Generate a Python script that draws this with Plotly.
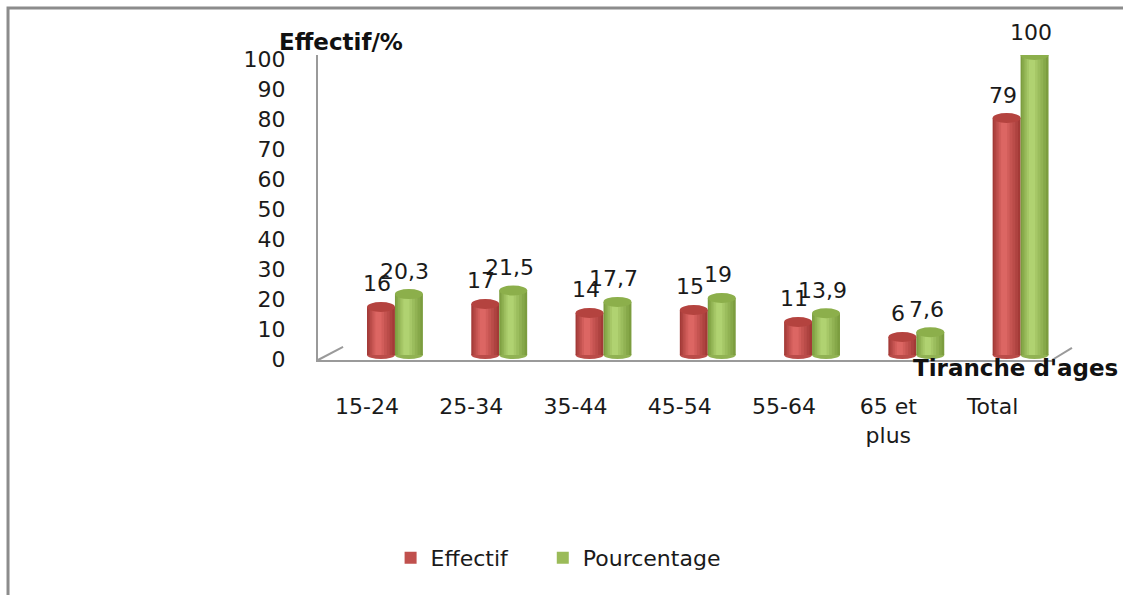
import numpy as np
import plotly.graph_objects as go

# Age groups and values
categories = ["15-24", "25-34", "35-44", "45-54", "55-64", "65 et<br>plus", "Total"]
effectif = [16, 17, 14, 15, 11, 6, 79]
pourcentage = [20.3, 21.5, 17.7, 19, 13.9, 7.6, 100]
y_ticks = list(range(0, 101, 10))

FONT = "DejaVu Sans"
TXT = "#1a1a1a"
W = 0.268  # width of one cylinder in category units

idx = np.arange(len(categories))
x_eff = idx - W / 2
x_pct = idx + W / 2


def blend(c1, c2, t):
    a = [int(c1[i:i + 2], 16) for i in (1, 3, 5)]
    b = [int(c2[i:i + 2], 16) for i in (1, 3, 5)]
    return "#" + "".join(f"{round(p + (q - p) * t):02x}" for p, q in zip(a, b))


series = [
    # name, x, values, edge colour, centre colour, legend colour, cap colour, legend id
    ("Effectif", x_eff, effectif, "#A33A37", "#DC6663", "#C0504D", "#B4433F", "legend"),
    ("Pourcentage", x_pct, pourcentage, "#7C9D3F", "#B0D271", "#9BBB59", "#8CAF4B", "legend2"),
]

# nested strips (width fraction, left offset) shading each cylinder
strips = [(1.0, 0.0), (0.86, 0.02), (0.70, 0.04), (0.54, 0.06), (0.38, 0.08), (0.22, 0.09)]

fig = go.Figure()
shapes = []

for name, xs, vals, edge, centre, legend_col, cap, leg in series:
    # legend-only entry in the flat series colour
    fig.add_trace(go.Bar(x=[None], y=[None], name=name, legend=leg,
                         marker=dict(color=legend_col, line=dict(width=0))))
    for k, (frac, off) in enumerate(strips):
        col = blend(edge, centre, k / (len(strips) - 1))
        fig.add_trace(go.Bar(x=xs - W * off, y=vals, width=W * frac, showlegend=False,
                             marker=dict(color=col, line=dict(width=0)),
                             hoverinfo="skip"))
    for x, v in zip(xs, vals):
        # top cap
        shapes.append(dict(type="circle", xref="x", yref="y", layer="above",
                           x0=x - W / 2, x1=x + W / 2,
                           ysizemode="pixel", yanchor=v, y0=-5, y1=5,
                           fillcolor=cap, line=dict(width=0)))
        # rounded bottom
        shapes.append(dict(type="circle", xref="x", yref="y", layer="below",
                           x0=x - W / 2, x1=x + W / 2,
                           ysizemode="pixel", yanchor=0, y0=-4, y1=4,
                           fillcolor=blend(edge, centre, 0.4), line=dict(width=0)))

# value labels above each cylinder
annotations = []
for name, xs, vals, *_ in series:
    for x, v in zip(xs, vals):
        annotations.append(dict(x=x, y=v, xref="x", yref="y",
                                text=f"{v:g}".replace(".", ","),
                                showarrow=False, yanchor="middle",
                                xshift=-4, yshift=23,
                                font=dict(family=FONT, size=22, color=TXT)))

# axis titles
annotations.append(dict(x=0.031, y=1.043, xref="paper", yref="paper",
                        text="<b>Effectif/%</b>", showarrow=False,
                        xanchor="center", yanchor="middle",
                        font=dict(family=FONT, size=23, color="#111")))
annotations.append(dict(x=0.946, y=-0.026, xref="paper", yref="paper",
                        text="<b>Tiranche d'ages</b>", showarrow=False,
                        xanchor="center", yanchor="middle",
                        font=dict(family=FONT, size=23, color="#111")))

GRAY = "#9a9a9a"
# floor depth edges
shapes.append(dict(type="line", xref="paper", yref="paper",
                   x0=0, y0=0, x1=0.034, y1=0.043, line=dict(color=GRAY, width=2)))
shapes.append(dict(type="line", xref="paper", yref="paper",
                   x0=0.996, y0=0, x1=1.023, y1=0.040, line=dict(color=GRAY, width=2)))
# outer chart frame
shapes.append(dict(type="path", xref="paper", yref="paper",
                   path="M -0.4206,-0.80 L -0.4206,1.154 L 1.10,1.154",
                   line=dict(color="#8c8c8c", width=3)))

legend_style = dict(orientation="h", y=-0.649, xanchor="left", yanchor="middle",
                    font=dict(family=FONT, size=22, color=TXT), bgcolor="rgba(0,0,0,0)")

fig.update_layout(
    width=1123, height=595,
    margin=dict(l=318, r=68, t=55, b=235),
    paper_bgcolor="white", plot_bgcolor="white",
    barmode="overlay",
    showlegend=True,
    legend=dict(x=0.0985, **legend_style),
    legend2=dict(x=0.305, **legend_style),
    shapes=shapes,
    annotations=annotations,
    font=dict(family=FONT, color=TXT),
)

fig.update_xaxes(range=[-0.738, 6.33], tickvals=idx, ticktext=categories,
                 showgrid=False, zeroline=False, showline=True,
                 linecolor=GRAY, linewidth=2, ticks="",
                 ticklabelshift=-28, ticklabelstandoff=26,
                 tickfont=dict(family=FONT, size=22, color=TXT))
fig.update_yaxes(range=[-1.67, 100], tickvals=y_ticks,
                 showgrid=False, zeroline=False, showline=True,
                 linecolor=GRAY, linewidth=2, ticks="",
                 ticklabelshift=4, ticklabelstandoff=26,
                 tickfont=dict(family=FONT, size=22, color=TXT))

fig.write_html("out.html")
